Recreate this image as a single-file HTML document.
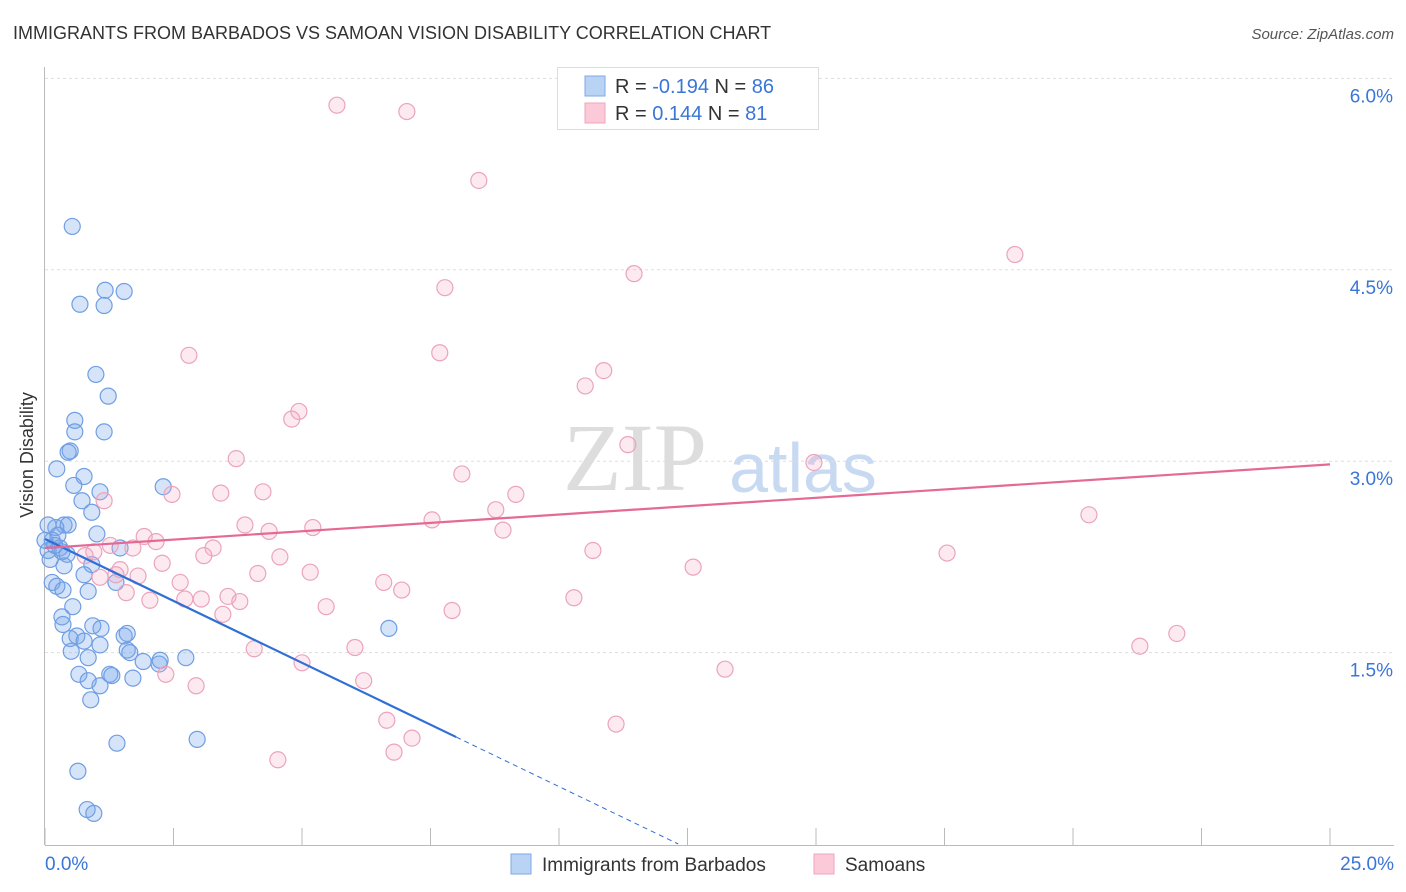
<!DOCTYPE html>
<html><head><meta charset="utf-8"><style>
body{margin:0;background:#fff;font-family:"Liberation Sans",sans-serif;}
#wrap{position:relative;width:1406px;height:892px;overflow:hidden;}
</style></head><body>
<div id="wrap">
<svg id="chart" width="1406" height="892" xmlns="http://www.w3.org/2000/svg">
<text x="13" y="39" font-size="18" fill="#333">IMMIGRANTS FROM BARBADOS VS SAMOAN VISION DISABILITY CORRELATION CHART</text>
<text x="1394" y="39" font-size="15" fill="#555" font-style="italic" text-anchor="end">Source: ZipAtlas.com</text>
<text x="33" y="455" font-size="18" fill="#333" transform="rotate(-90 33 455)" text-anchor="middle">Vision Disability</text>
<g><text x="635" y="490" font-size="96" fill="#ddd" font-family="Liberation Serif,serif" text-anchor="middle">ZIP</text><text x="803" y="492" font-size="70" fill="#c8d9f2" text-anchor="middle">atlas</text></g>
<g id="grid"></g><g id="axes"></g><g id="pts"></g><g id="lines"></g>
<g>
<rect x="557.5" y="67.5" width="261" height="62" fill="#fff" stroke="#ddd"/>
<rect x="585" y="76" width="20" height="20" fill="#b9d3f5" stroke="#7fa8e6"/>
<rect x="585" y="103" width="20" height="20" fill="#fbc9d8" stroke="#eea6bd"/>
<text x="615" y="93" font-size="20" fill="#333">R = <tspan fill="#3a75d8">-0.194</tspan>   N = <tspan fill="#3a75d8">86</tspan></text>
<text x="615" y="120" font-size="20" fill="#333">R =  <tspan fill="#3a75d8"> 0.144</tspan>   N =  <tspan fill="#3a75d8">81</tspan></text>
</g>
<g>
<rect x="511" y="854" width="20" height="20" fill="#b9d3f5" stroke="#7fa8e6"/>
<text x="542" y="871" font-size="19" fill="#333">Immigrants from Barbados</text>
<rect x="814" y="854" width="20" height="20" fill="#fbc9d8" stroke="#eea6bd"/>
<text x="845" y="871" font-size="19" fill="#333">Samoans</text>
</g>
<text x="45" y="870" font-size="19" fill="#3a75d8">0.0%</text>
<text x="1394" y="870" font-size="19" fill="#3a75d8" text-anchor="end">25.0%</text>
</svg>
</div>
<script>
const yTicks=[1.5,3.0,4.5,6.0];
const yTickLabels=["1.5%","3.0%","4.5%","6.0%"];
const xTicks=[0,2.5,5,7.5,10,12.5,15,17.5,20,22.5,25];
const blueX=[0.53,0.68,1.17,1.54,1.15,0.99,1.23,0.58,0.58,1.15,0.49,0.45,0.23,0.76,0.56,1.07,0.72,0.91,0.37,0.45,0.21,0.06,1.01,0.14,0.29,0.06,0.33,0.43,1.46,0.91,0.37,0.76,0.14,0.23,0.35,0.84,1.38,0.54,0.33,0.35,0.93,1.09,0.62,0.49,0.76,1.54,1.6,1.07,0.51,0.84,1.6,1.65,1.91,2.22,2.24,2.74,0.66,1.26,0.84,1.3,1.71,1.07,0.89,2.96,1.4,0.64,0.82,0.95,2.3,6.69,0.1,0.19,0.25,0.0];
const blueY=[4.84,4.23,4.34,4.33,4.22,3.68,3.51,3.32,3.23,3.23,3.08,3.07,2.94,2.88,2.81,2.76,2.69,2.6,2.5,2.5,2.48,2.5,2.43,2.38,2.32,2.3,2.29,2.27,2.32,2.19,2.18,2.11,2.05,2.02,1.99,1.98,2.05,1.86,1.78,1.72,1.71,1.69,1.63,1.61,1.59,1.63,1.65,1.56,1.51,1.46,1.52,1.5,1.43,1.41,1.44,1.46,1.33,1.33,1.28,1.32,1.3,1.24,1.13,0.82,0.79,0.57,0.27,0.24,2.8,1.69,2.23,2.34,2.42,2.38];
const pinkX=[5.68,7.04,8.44,18.87,11.46,7.78,2.8,7.68,10.87,10.51,4.94,4.8,11.34,3.72,14.96,8.11,2.47,3.42,4.24,1.15,9.16,8.77,20.31,7.53,3.89,5.21,8.91,4.36,1.93,2.16,1.27,1.71,3.27,10.66,17.55,0.95,4.57,3.09,2.28,12.61,1.46,1.38,4.14,5.16,1.81,6.59,6.94,2.63,10.29,2.72,3.04,3.56,2.04,3.79,1.58,5.47,7.92,3.46,22.02,21.3,4.07,6.03,5.0,13.23,2.35,6.2,2.94,6.65,11.11,7.14,6.79,4.53,1.07,0.78];
const pinkY=[5.79,5.74,5.2,4.62,4.47,4.36,3.83,3.85,3.71,3.59,3.39,3.33,3.13,3.02,2.99,2.9,2.74,2.75,2.76,2.69,2.74,2.62,2.58,2.54,2.5,2.48,2.46,2.45,2.41,2.37,2.34,2.32,2.32,2.3,2.28,2.29,2.25,2.26,2.2,2.17,2.15,2.11,2.12,2.13,2.1,2.05,1.99,2.05,1.93,1.92,1.92,1.94,1.91,1.9,1.97,1.86,1.83,1.8,1.65,1.55,1.53,1.54,1.42,1.37,1.33,1.28,1.24,0.97,0.94,0.83,0.72,0.66,2.09,2.26];
const blueFit=[2.39,-0.194];
const pinkFit=[2.32,0.0262];
const X0=45,XS=51.4,Y0=844,YS=127.6;
const sx=v=>X0+v*XS, sy=v=>Y0-v*YS;
const NS="http://www.w3.org/2000/svg";
function mk(tag,attrs,parent){const e=document.createElementNS(NS,tag);for(const k in attrs)e.setAttribute(k,attrs[k]);parent.appendChild(e);return e;}
const grid=document.getElementById('grid'),axes=document.getElementById('axes');
yTicks.forEach((t,i)=>{
 const l=mk('line',{x1:45,x2:1394,y1:sy(t),y2:sy(t),stroke:'#ddd','stroke-dasharray':'3,3'},grid);
 
 
 const tx=mk('text',{x:1393,y:sy(t)+24,'font-size':19,fill:'#3a75d8','text-anchor':'end'},axes);
 tx.textContent=yTickLabels[i];
 
 
});
const ax=mk('line',{x1:44.5,x2:44.5,y1:67,y2:845,stroke:'#bbb'},axes);


const bx=mk('line',{x1:45,x2:1394,y1:845.5,y2:845.5,stroke:'#bbb'},axes);


xTicks.forEach(t=>{
 const l=mk('line',{x1:sx(t),x2:sx(t),y1:828,y2:845,stroke:'#bbb'},axes);
 
 
});
const pts=document.getElementById('pts');
blueX.forEach((x,i)=>{
 const c=mk('circle',{cx:sx(x),cy:sy(blueY[i]),r:8,fill:'rgba(120,165,235,0.3)',stroke:'#6f9ee3','stroke-width':1.2},pts);
 
 
});
pinkX.forEach((x,i)=>{
 const c=mk('circle',{cx:sx(x),cy:sy(pinkY[i]),r:8,fill:'rgba(245,170,195,0.25)',stroke:'#eca3bb','stroke-width':1.2},pts);
 
 
});
const lines=document.getElementById('lines');
const f=(p,x)=>p[0]+p[1]*x;
const b1=mk('line',{x1:sx(0),y1:sy(f(blueFit,0)),x2:sx(8),y2:sy(f(blueFit,8)),stroke:'#2f6fd6','stroke-width':2.2},lines);


const xe=blueFit[0]/-blueFit[1];
const b2=mk('line',{x1:sx(8),y1:sy(f(blueFit,8)),x2:sx(xe),y2:sy(0),stroke:'#2f6fd6','stroke-width':1,'stroke-dasharray':'5,4'},lines);


const p1=mk('line',{x1:sx(0),y1:sy(f(pinkFit,0)),x2:sx(25),y2:sy(f(pinkFit,25)),stroke:'#e46a95','stroke-width':2.2},lines);


</script>
</body></html>
